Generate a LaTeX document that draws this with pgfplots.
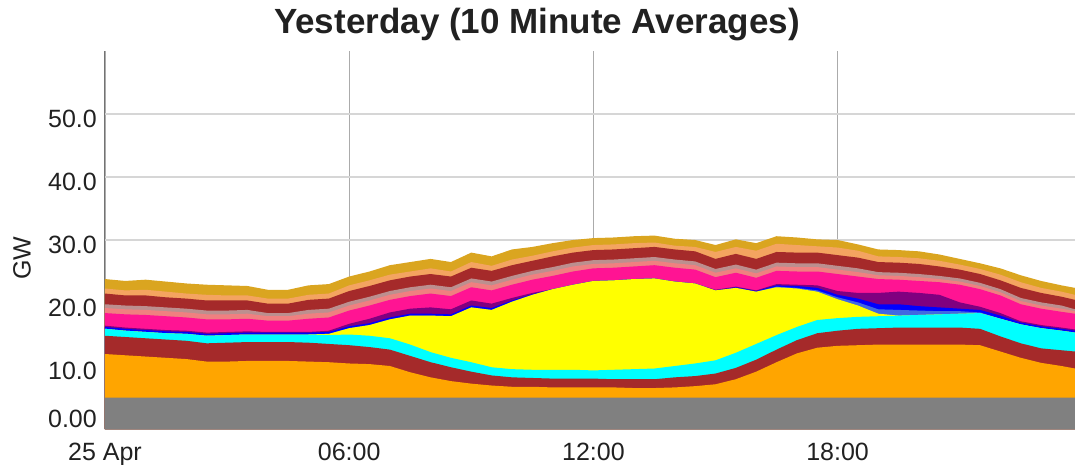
\documentclass[border=0pt]{standalone}
\usepackage{pgfplots}
\pgfplotsset{compat=1.18}
\usepackage{pgfplotstable}
\usepackage{fontspec}
\setmainfont{Liberation Sans}
\definecolor{cGrey}{HTML}{808080}
\definecolor{cOrange}{HTML}{FFA500}
\definecolor{cBrown}{HTML}{A52A2A}
\definecolor{cCyan}{HTML}{00FFFF}
\definecolor{cYellow}{HTML}{FFFF00}
\definecolor{cRoyal}{HTML}{4169E1}
\definecolor{cBlue}{HTML}{0000FF}
\definecolor{cPurple}{HTML}{800080}
\definecolor{cPink}{HTML}{FF1493}
\definecolor{cCoral}{HTML}{F08080}
\definecolor{cRosy}{HTML}{BC8F8F}
\definecolor{cSandy}{HTML}{F4A460}
\definecolor{cGold}{HTML}{DAA520}
\definecolor{txt}{HTML}{212121}

% cumulative tops of each layer (GW)
\pgfplotstableread{
h      G  O    B1   C    Y    R    Bl   P    K    LC   RB   B2   S    T
0      5  11.9 14.8 15.9 15.9 15.9 16.2 16.4 18.4 19.2 19.8 21.5 22.3 23.8
0.5    5  11.7 14.6 15.6 15.6 15.6 15.9 16.1 18.2 19.0 19.6 21.2 22.0 23.5
1      5  11.5 14.4 15.4 15.4 15.4 15.7 15.9 18.1 18.9 19.5 21.2 22.1 23.7
1.5    5  11.3 14.2 15.2 15.2 15.2 15.5 15.7 17.9 18.7 19.3 20.9 21.8 23.4
2      5  11.1 14.0 15.1 15.1 15.1 15.4 15.6 17.7 18.5 19.1 20.7 21.5 23.1
2.5    5  10.7 13.6 14.8 14.8 14.8 15.1 15.3 17.4 18.2 18.8 20.4 21.3 22.9
3      5  10.7 13.7 14.9 14.9 14.9 15.2 15.4 17.4 18.2 18.8 20.4 21.2 22.8
3.5    5  10.8 13.8 15.0 15.0 15.0 15.3 15.5 17.5 18.3 18.9 20.4 21.2 22.7
4      5  10.8 13.8 15.0 15.0 15.0 15.3 15.4 17.2 17.9 18.4 19.9 20.7 22.1
4.5    5  10.8 13.8 15.0 15.0 15.0 15.3 15.4 17.2 17.9 18.4 19.9 20.7 22.1
5      5  10.7 13.7 15.0 15.0 15.0 15.3 15.4 17.5 18.3 18.9 20.5 21.3 22.8
5.5    5  10.6 13.5 14.9 15.1 15.1 15.4 15.6 17.7 18.5 19.1 20.7 21.5 23.0
6      5  10.4 13.3 15.0 16.0 16.0 16.3 16.7 18.8 19.6 20.2 21.9 22.8 24.2
6.5    5  10.3 13.0 14.8 16.5 16.5 16.8 17.5 19.6 20.4 21.0 22.7 23.6 25.0
7      5  10.0 12.6 14.4 17.4 17.4 17.7 18.5 20.5 21.3 21.9 23.6 24.5 26.0
7.5    5   9.0 11.6 13.4 18.0 18.0 18.3 19.1 21.1 21.9 22.5 24.2 25.0 26.5
8      5   8.2 10.6 12.2 18.0 18.0 18.3 19.3 21.5 22.3 22.9 24.6 25.5 27.0
8.5    5   7.6  9.8 11.3 17.9 17.9 18.2 19.0 21.1 21.9 22.5 24.2 25.0 26.5
9      5   7.2  9.1 10.6 19.3 19.3 19.6 20.4 22.5 23.3 23.9 25.6 26.5 28.0
9.5    5   6.9  8.5  9.8 18.9 18.9 19.2 19.9 22.0 22.8 23.4 25.1 25.9 27.4
10     5   6.7  8.2  9.5 20.2 20.2 20.4 20.8 22.9 23.7 24.3 26.0 26.9 28.5
10.5   5   6.7  8.1  9.4 21.3 21.3 21.4 21.6 23.7 24.5 25.1 26.7 27.5 28.9
11     5   6.6  8.0  9.4 22.2 22.2 22.2 22.2 24.3 25.1 25.7 27.4 28.2 29.5
11.5   5   6.6  8.0  9.4 22.9 22.9 22.9 22.9 25.0 25.8 26.4 28.0 28.8 30.0
12     5   6.6  8.0  9.3 23.5 23.5 23.5 23.5 25.5 26.2 26.8 28.4 29.2 30.3
12.5   5   6.6  7.9  9.4 23.6 23.6 23.6 23.6 25.6 26.3 26.9 28.5 29.3 30.4
13     5   6.5  7.9  9.5 23.8 23.8 23.8 23.8 25.8 26.5 27.1 28.7 29.5 30.6
13.5   5   6.5  7.9  9.6 23.9 23.9 23.9 23.9 26.0 26.7 27.3 28.9 29.6 30.7
14     5   6.6  8.2 10.0 23.4 23.4 23.4 23.4 25.6 26.3 26.9 28.5 29.1 30.2
14.5   5   6.8  8.4 10.4 23.1 23.1 23.1 23.1 25.3 26.0 26.6 28.2 28.9 30.0
15     5   7.1  8.8 10.9 22.0 22.0 22.0 22.1 24.1 24.8 25.4 27.0 28.1 29.2
15.5   5   7.9  9.7 12.1 22.4 22.4 22.5 22.6 24.8 25.5 26.1 27.8 28.9 30.1
16     5   9.1 11.0 13.5 21.8 21.8 21.9 22.0 24.0 24.7 25.3 27.0 28.3 29.5
16.5   5  10.6 12.6 14.9 22.5 22.6 22.8 23.0 25.1 25.8 26.4 28.1 29.4 30.6
17     5  12.0 14.1 16.2 22.3 22.4 22.7 22.9 25.0 25.7 26.3 28.0 29.2 30.4
17.5   5  12.9 15.2 17.3 21.8 22.0 22.4 22.8 25.0 25.7 26.3 28.0 29.0 30.1
18     5  13.2 15.6 17.6 20.6 20.9 21.3 21.9 24.6 25.3 25.9 27.6 28.8 30.0
18.5   5  13.3 15.9 17.8 19.6 20.1 20.7 21.6 24.2 24.9 25.5 27.2 28.3 29.3
19     5  13.4 16.0 17.9 18.3 19.0 19.8 21.6 23.8 24.4 24.9 26.5 27.4 28.5
19.5   5  13.4 16.1 18.0 18.0 18.9 19.8 21.8 23.7 24.3 24.8 26.4 27.3 28.4
20     5  13.4 16.1 18.1 18.1 18.8 19.5 21.6 23.5 24.1 24.6 26.2 27.1 28.2
20.5   5  13.4 16.1 18.2 18.2 18.7 19.3 21.3 23.3 23.8 24.3 25.8 26.7 27.7
21     5  13.4 16.1 18.3 18.3 18.7 19.1 20.1 22.9 23.4 23.9 25.3 26.1 27.0
21.5   5  13.3 15.9 18.4 18.4 18.5 18.9 19.4 22.2 22.7 23.2 24.6 25.4 26.3
22     5  12.3 14.7 17.5 17.5 17.5 18.0 18.4 21.2 21.7 22.2 23.6 24.5 25.5
22.5   5  11.3 13.6 16.6 16.6 16.6 16.9 17.1 19.8 20.3 20.8 22.4 23.3 24.4
23     5  10.5 12.8 16.0 16.0 16.0 16.3 16.5 19.1 19.6 20.1 21.6 22.4 23.5
23.5   5  10.0 12.5 15.6 15.6 15.6 15.9 16.1 18.6 19.1 19.6 21.0 21.8 22.8
23.833 5   9.6 12.3 15.3 15.3 15.3 15.6 15.8 18.3 18.7 19.0 20.5 21.3 22.4
}\gen

\begin{document}
\begin{tikzpicture}
\path[use as bounding box] (-105bp,-36bp) rectangle (979bp,429bp);
\begin{axis}[
  at={(0,0)}, anchor=south west,
  scale only axis, width=970bp, height=378bp,
  xmin=0, xmax=23.8333, ymin=0, ymax=60,
  axis lines*=left,
  x axis line style={draw={rgb,255:red,221;green,205;blue,228}, line width=1bp},
  y axis line style={draw=black!55, line width=1bp},
  xtick={0,6,12,18},
  xticklabels={25 Apr,06:00,12:00,18:00},
  ytick={10,20,30,40,50},
  yticklabels={10.0,20.0,30.0,40.0,50.0},
  extra y ticks={0},
  extra y tick labels={0.00},
  extra y tick style={yticklabel style={yshift=15bp}},
  major tick length=0pt,
  xmajorgrids, ymajorgrids,
  x grid style={draw=black!33, line width=0.9bp},
  y grid style={draw=black!16, line width=1.3bp},
  tick label style={font=\fontsize{25bp}{30bp}\selectfont, text=txt},
  yticklabel style={inner sep=0pt, xshift=-8bp, yshift=-5bp},
  xticklabel style={inner sep=0pt, yshift=-14bp},
  ylabel={GW},
  ylabel style={at={(axis description cs:-0.0856,0.452)}, anchor=center,
    font=\fontsize{25bp}{30bp}\selectfont, text=txt},
  title={Yesterday (10 Minute Averages)},
  title style={at={(axis description cs:0.4454,1)}, anchor=base, yshift=12bp,
    font=\fontsize{35bp}{40bp}\selectfont\bfseries, text=txt},
]
\addplot[fill=cGold,   draw=none] table[x=h,y=T]{\gen} \closedcycle;
\addplot[fill=cSandy,  draw=none] table[x=h,y=S]{\gen} \closedcycle;
\addplot[fill=cBrown,  draw=none] table[x=h,y=B2]{\gen} \closedcycle;
\addplot[fill=cRosy,   draw=none] table[x=h,y=RB]{\gen} \closedcycle;
\addplot[fill=cCoral,  draw=none] table[x=h,y=LC]{\gen} \closedcycle;
\addplot[fill=cPink,   draw=none] table[x=h,y=K]{\gen} \closedcycle;
\addplot[fill=cPurple, draw=none] table[x=h,y=P]{\gen} \closedcycle;
\addplot[fill=cBlue,   draw=none] table[x=h,y=Bl]{\gen} \closedcycle;
\addplot[fill=cRoyal,  draw=none] table[x=h,y=R]{\gen} \closedcycle;
\addplot[fill=cYellow, draw=none] table[x=h,y=Y]{\gen} \closedcycle;
\addplot[fill=cCyan,   draw=none] table[x=h,y=C]{\gen} \closedcycle;
\addplot[fill=cBrown,  draw=none] table[x=h,y=B1]{\gen} \closedcycle;
\addplot[fill=cOrange, draw=none] table[x=h,y=O]{\gen} \closedcycle;
\addplot[fill=cGrey,   draw=none] table[x=h,y=G]{\gen} \closedcycle;
\end{axis}
\end{tikzpicture}
\end{document}
